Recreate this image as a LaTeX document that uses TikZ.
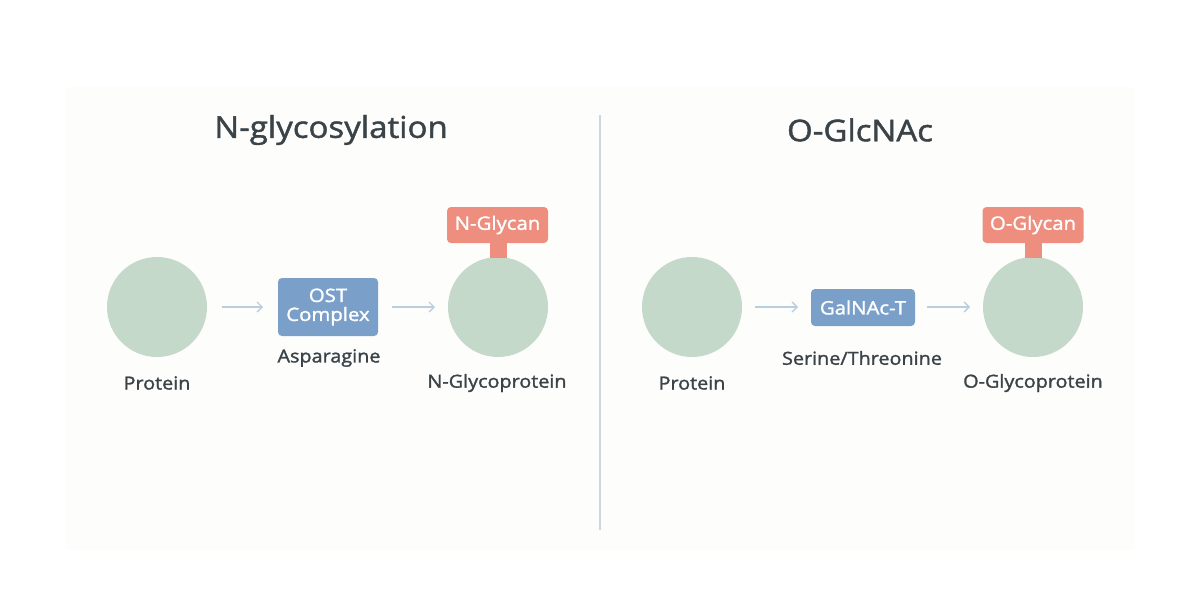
\documentclass[tikz,border=0pt]{standalone}
\usepackage{fontspec}
\setmainfont{Open Sans}[FakeStretch=1.1,FakeBold=1.5]
\usetikzlibrary{arrows.meta}
\definecolor{txt}{HTML}{3A4347}
\definecolor{prot}{HTML}{C5D9CB}
\definecolor{enz}{HTML}{7A9FC9}
\definecolor{gly}{HTML}{EE8E7E}
\definecolor{arr}{HTML}{B9CFDF}
\definecolor{divc}{HTML}{C9D7E2}
\definecolor{panel}{HTML}{FDFDFC}
\begin{document}
\begin{tikzpicture}[x=1pt,y=-1pt,
  title/.style={text=txt,font=\fontsize{30}{33}\selectfont,inner sep=0pt},
  lbl/.style={text=txt,font=\fontsize{18}{21}\selectfont,inner sep=0pt},
  protc/.style={circle,fill=prot,minimum size=100pt,inner sep=0pt},
  enzbox/.style={fill=enz,rounded corners=4pt,text=white,font=\fontsize{18.5}{21}\selectfont,align=center,inner sep=0pt},
  glybox/.style={fill=gly,rounded corners=4pt,text=white,font=\fontsize{18.5}{21}\selectfont,minimum width=101pt,minimum height=36pt,inner sep=0pt},
  flow/.style={draw=arr,line width=1.3pt,-{Straight Barb[length=5pt,width=10pt]}},
]
\useasboundingbox (0,0) rectangle (1200,600);
\fill[white] (0,0) rectangle (1200,600);
\fill[panel] (65,87) rectangle (1135,550);
\draw[divc,line width=1.5pt] (600,115) coordinate (d1) -- (600,530) coordinate (d2);

% left
\node[title] (t1) at (331,130) {N-glycosylation};
\node[protc] (p1) at (157,307) {};
\node[lbl] (p1l) at (157,383) {Protein};
\node[enzbox,minimum width=100pt,minimum height=58pt] (e1) at (328,307) {OST\\[-2pt]Complex};
\node[lbl] (e1l) at (329,358) {Asparagine};
\node[protc] (g1) at (498,307) {};
\node[lbl] (g1l) at (497,383) {N-Glycoprotein};
\fill[gly] (490,238) rectangle (507,258);
\node[glybox] (n1) at (497.5,225) {N-Glycan};
\draw[flow] (222,307) -- (263,307);
\draw[flow] (392,307) -- (435,307);

% right
\node[title] (t2) at (860,130) {O-GlcNAc};
\node[protc] (p2) at (692,307) {};
\node[lbl] (p2l) at (692,383) {Protein};
\node[enzbox,minimum width=104pt,minimum height=37pt] (e2) at (863,307.5) {GalNAc-T};
\node[lbl] (e2l) at (862,358) {Serine/Threonine};
\node[protc] (g2) at (1033,307) {};
\node[lbl] (g2l) at (1033,383) {O-Glycoprotein};
\fill[gly] (1025,238) rectangle (1042,258);
\node[glybox] (n2) at (1033,225) {O-Glycan};
\draw[flow] (755,307) -- (798,307);
\draw[flow] (927,307) -- (970,307);
\end{tikzpicture}
\end{document}
